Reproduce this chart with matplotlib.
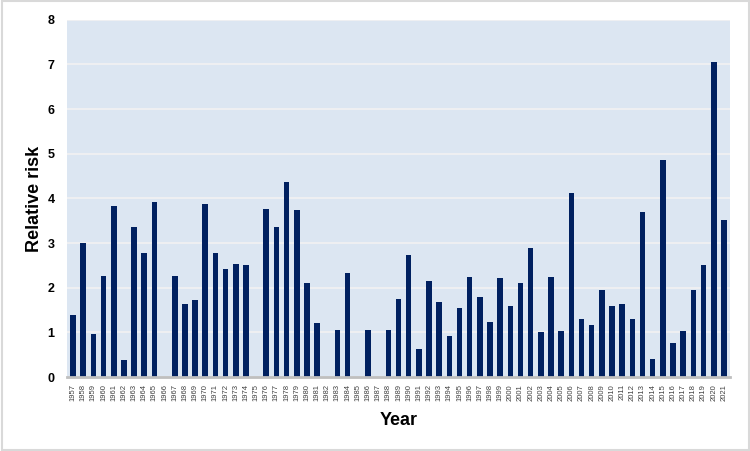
import numpy as np
from matplotlib import pyplot as plt

plt.rcParams['font.family'] = ['Liberation Sans', 'DejaVu Sans']

# Valores
anos = list(range(1957, 2022))
risco_relativo = [1.40, 3.00, 0.96, 2.26, 3.82, 0.38, 3.35, 2.78, 3.93, 0.00,
                  2.26, 1.63, 1.72, 3.87, 2.78, 2.41, 2.53, 2.52, 0.00, 3.76,
                  3.37, 4.36, 3.73, 2.10, 1.20, 0.00, 1.05, 2.33, 0.00, 1.05,
                  0.00, 1.05, 1.75, 2.73, 0.63, 2.15, 1.68, 0.91, 1.55, 2.25,
                  1.79, 1.24, 2.21, 1.58, 2.10, 2.88, 1.00, 2.23, 1.04, 4.13,
                  1.30, 1.17, 1.94, 1.58, 1.63, 1.30, 3.69, 0.40, 4.86, 0.76,
                  1.04, 1.95, 2.50, 7.06, 3.52]

fig = plt.figure(figsize=(7.5, 4.51), dpi=100)
ax = fig.add_axes([0.0893, 0.164, 0.884, 0.792])

x = np.arange(len(anos))
ax.bar(x, risco_relativo, width=0.55, color="#002060", zorder=3)

ax.set_facecolor("#DCE6F2")
ax.set_xlim(-0.6, len(anos) - 0.4)
ax.set_ylim(0, 8)
ax.set_yticks(range(0, 9))
ax.yaxis.grid(True, color="#F2F2F2", linewidth=1.2, zorder=1)

ax.set_xticks(x)
ax.set_xticklabels([str(a) for a in anos], rotation=90, fontsize=5.5, color="#404040")
ax.tick_params(axis="x", length=0, pad=5)
ax.tick_params(axis="y", length=0, pad=9, labelsize=9)
for lbl in ax.get_yticklabels():
    lbl.set_fontweight("bold")

for s in ["top", "right", "left"]:
    ax.spines[s].set_visible(False)
ax.spines["bottom"].set_color("#BFBFBF")
ax.spines["bottom"].set_linewidth(2)
ax.spines["bottom"].set_zorder(4)

ax.set_xlabel("Year", fontsize=13, fontweight="bold", labelpad=8)
ax.set_ylabel("Relative risk", fontsize=13, fontweight="bold", labelpad=3)

# moldura cinza em volta da figura
fig.patches.append(plt.Rectangle((0.002, 0.003), 0.996, 0.994, transform=fig.transFigure,
                                 fill=False, edgecolor="#D9D9D9", linewidth=1.5))

plt.savefig("out.png", dpi=100)
